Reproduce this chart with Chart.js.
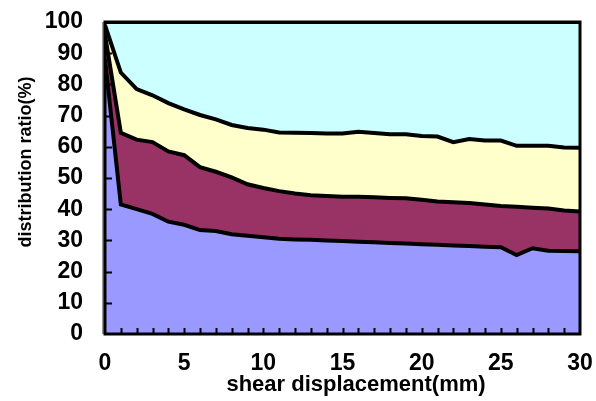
<!DOCTYPE html>
<html>
<head>
<meta charset="utf-8">
<script src="https://cdn.jsdelivr.net/npm/chart.js@4"></script>
<style>
  html, body { margin: 0; padding: 0; background: #fff; }
  #wrap { width: 596px; height: 401px; }
</style>
</head>
<body>
<div id="wrap"><canvas id="ratioChart" width="596" height="401"></canvas></div>
<script>
// shear displacement (mm)
const displacement = [0, 1, 2, 3, 4, 5, 6, 7, 8, 9, 10, 11, 12, 13, 14, 15, 16, 17, 18, 19, 20, 21, 22, 23, 24, 25, 26, 27, 28, 29, 30];

// upper boundary of each band (cumulative %)
const blueTop = [88, 41.5, 40, 38.5, 36, 35, 33.3, 33, 32, 31.5, 31, 30.5, 30.3, 30.2, 30, 29.8, 29.6, 29.4, 29.2, 29, 28.8, 28.6, 28.4, 28.2, 28, 27.8, 25.3, 27.5, 26.7, 26.6, 26.5];
const maroonTop = [96, 64.5, 62.3, 61.5, 58.5, 57.3, 53.5, 52, 50.2, 48, 46.8, 45.8, 45, 44.5, 44.2, 44, 44, 43.8, 43.6, 43.5, 43, 42.5, 42.2, 42, 41.5, 41, 40.8, 40.5, 40.2, 39.6, 39.3];
const yellowTop = [99, 83.8, 78.5, 76.5, 74, 72, 70.2, 68.8, 67, 66, 65.5, 64.6, 64.5, 64.4, 64.3, 64.3, 64.8, 64.4, 64, 64, 63.5, 63.3, 61.5, 62.5, 62, 62, 60.3, 60.3, 60.3, 59.8, 59.7];
const cyanTop = [100, 100, 100, 100, 100, 100, 100, 100, 100, 100, 100, 100, 100, 100, 100, 100, 100, 100, 100, 100, 100, 100, 100, 100, 100, 100, 100, 100, 100, 100, 100];

const xTitle = "shear displacement(mm)";
const yTitle = "distribution ratio(%)";

const FONT = "'Liberation Sans', Arial, sans-serif";

function pts(arr) {
  return arr.map((v, i) => ({ x: displacement[i], y: v }));
}

function band(arr, color, fill) {
  return {
    data: pts(arr),
    borderColor: "#000",
    borderWidth: 4,
    backgroundColor: color,
    fill: fill,
    pointRadius: 0,
    tension: 0
  };
}

// frame, inward ticks and axis titles
const frameAndTicks = {
  id: "frameAndTicks",
  afterDatasetsDraw(chart) {
    const { ctx, chartArea: a, scales } = chart;
    ctx.save();
    ctx.strokeStyle = "#000";
    ctx.lineWidth = 2;
    // x minor ticks every 1mm, pointing up
    for (let v = 1; v < 30; v++) {
      const px = Math.round(scales.x.getPixelForValue(v)) + 0.5;
      ctx.beginPath();
      ctx.moveTo(px, a.bottom);
      ctx.lineTo(px, a.bottom - 6);
      ctx.stroke();
    }
    // y ticks every 10, pointing right
    for (let v = 10; v < 100; v += 10) {
      const py = Math.round(scales.y.getPixelForValue(v)) + 0.5;
      ctx.beginPath();
      ctx.moveTo(a.left, py);
      ctx.lineTo(a.left + 7, py);
      ctx.stroke();
    }
    // grey shadow on the left
    ctx.strokeStyle = "#999";
    ctx.lineWidth = 2;
    ctx.beginPath();
    ctx.moveTo(a.left - 2, a.top);
    ctx.lineTo(a.left - 2, a.bottom);
    ctx.stroke();
    // frame
    ctx.strokeStyle = "#000";
    ctx.lineWidth = 3;
    ctx.strokeRect(a.left, a.top, a.right - a.left, a.bottom - a.top);

    // axis titles
    ctx.fillStyle = "#000";
    ctx.textAlign = "center";
    ctx.textBaseline = "middle";
    ctx.font = "bold 22px " + FONT;
    ctx.fillText(xTitle, 356, 385);
    ctx.font = "bold 18px " + FONT;
    ctx.translate(26, 162);
    ctx.rotate(-Math.PI / 2);
    ctx.fillText(yTitle, 0, 0);
    ctx.restore();
  }
};

const ctx = document.getElementById("ratioChart").getContext("2d");
const ratioChart = new Chart(ctx, {
  type: "line",
  data: {
    datasets: [
      band(blueTop, "#9999FF", "origin"),
      band(maroonTop, "#993366", "-1"),
      band(yellowTop, "#FFFFCC", "-1"),
      band(cyanTop, "#CCFFFF", "-1")
    ]
  },
  plugins: [frameAndTicks],
  options: {
    responsive: false,
    animation: false,
    layout: { autoPadding: false, padding: { left: 0, right: 16, top: 22, bottom: 0 } },
    plugins: {
      legend: { display: false },
      tooltip: { enabled: false }
    },
    scales: {
      x: {
        type: "linear",
        min: 0,
        max: 30,
        // fixed axis box, no label overhang padding
        afterFit(scale) { scale.height = 67; scale.paddingLeft = 0; scale.paddingRight = 0; },
        grid: { display: false, drawTicks: false },
        border: { display: false },
        ticks: {
          stepSize: 5,
          autoSkip: false,
          maxRotation: 0,
          padding: 16,
          color: "#000",
          font: { family: FONT, size: 23, weight: "bold" }
        }
      },
      y: {
        min: 0,
        max: 100,
        afterFit(scale) { scale.width = 105; scale.paddingTop = 0; scale.paddingBottom = 0; },
        grid: { display: false, drawTicks: false },
        border: { display: false },
        ticks: {
          stepSize: 10,
          autoSkip: false,
          padding: 22,
          color: "#000",
          font: { family: FONT, size: 23, weight: "bold" }
        }
      }
    }
  }
});
</script>
</body>
</html>
